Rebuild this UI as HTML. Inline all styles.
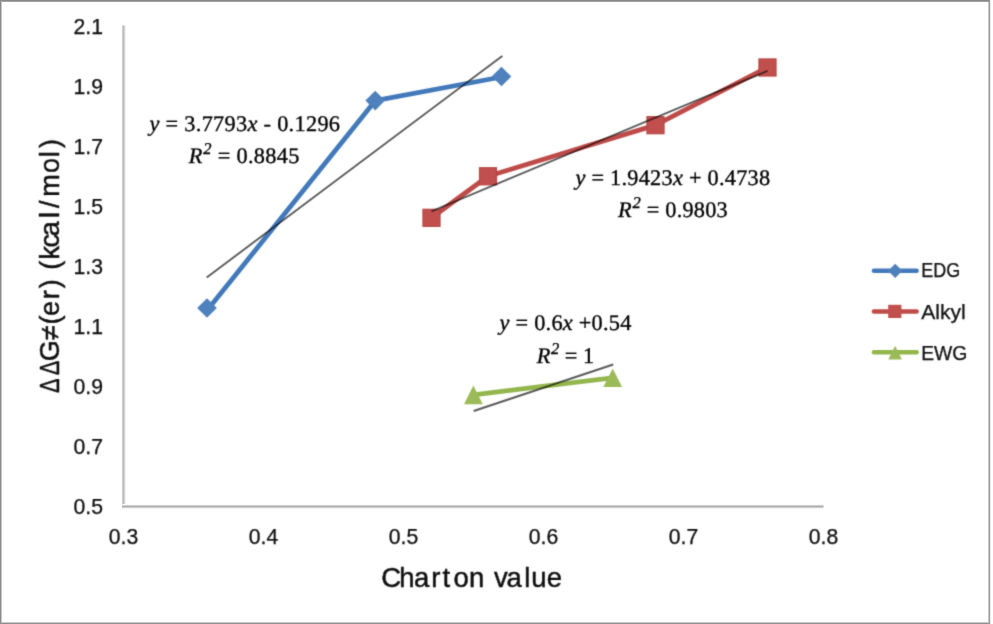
<!DOCTYPE html>
<html><head><meta charset="utf-8">
<style>
html,body{margin:0;padding:0;background:#fff;}
body{width:993px;height:624px;overflow:hidden;position:relative;}
svg{position:absolute;left:0;top:0;display:block;}
.t{font-family:"Liberation Sans",sans-serif;fill:#0c0c0c;stroke:#0c0c0c;stroke-width:0.25px;}
.tb{stroke-width:0.45px;}
.s{font-family:"Liberation Serif",serif;fill:#000;stroke:#000;stroke-width:0.35px;text-rendering:geometricPrecision;}
</style></head><body>
<svg width="993" height="624" viewBox="0 0 993 624">
<!-- chart border -->
<rect x="0" y="0" width="993" height="624" fill="#fff"/>
<rect x="0" y="0" width="990" height="1" fill="#888"/>
<rect x="0" y="1" width="990" height="1" fill="#a2a2a2"/>
<rect x="0" y="0" width="1" height="624" fill="#8a8a8a"/>
<rect x="1" y="1" width="1" height="622" fill="#c6c6c6"/>
<rect x="989" y="0" width="1" height="624" fill="#9a9a9a"/>
<rect x="988" y="2" width="1" height="621" fill="#c6c6c6"/>
<rect x="990" y="0" width="1" height="624" fill="#ededed"/>
<rect x="0" y="623" width="990" height="1" fill="#8f8f8f"/>
<rect x="2" y="622" width="986" height="1" fill="#c8c8c8"/>

<!-- axes -->
<rect x="121" y="26" width="1" height="479" fill="#fbfbfb"/>
<rect x="122" y="26" width="1" height="479" fill="#cecece"/>
<rect x="123" y="26" width="1" height="479" fill="#bababa"/>
<rect x="124" y="26" width="1" height="479" fill="#d4d4d4"/>
<rect x="125" y="26" width="1" height="479" fill="#f4f4f4"/>
<rect x="122" y="25" width="3" height="1" fill="#e2e2e2"/>
<rect x="122" y="504" width="701" height="1" fill="#fafafa"/>
<rect x="122" y="505" width="701" height="1" fill="#d0d0d0"/>
<rect x="122" y="506" width="701" height="1" fill="#adadad"/>
<rect x="122" y="507" width="701" height="1" fill="#cfcfcf"/>
<rect x="122" y="508" width="701" height="1" fill="#f2f2f2"/>
<rect x="823" y="505" width="1" height="3" fill="#dcdcdc"/>

</svg>
<svg class="c" width="993" height="624" viewBox="0 0 993 624">
<defs><filter id="cv" x="0" y="0" width="993" height="624" filterUnits="userSpaceOnUse"><feConvolveMatrix order="3" kernelMatrix="0.0225 0.105 0.0225 0.105 0.49 0.105 0.0225 0.105 0.0225" divisor="1" preserveAlpha="false" edgeMode="none"/></filter></defs>
<g filter="url(#cv)">
<!-- y tick labels -->
<g class="t" font-size="21.2" text-anchor="end">
<text x="103" y="33.9">2.1</text>
<text x="103" y="93.9">1.9</text>
<text x="103" y="153.9">1.7</text>
<text x="103" y="213.9">1.5</text>
<text x="103" y="273.9">1.3</text>
<text x="103" y="333.9">1.1</text>
<text x="103" y="393.9">0.9</text>
<text x="103" y="453.9">0.7</text>
<text x="103" y="513.9">0.5</text>
</g>
<!-- x tick labels -->
<g class="t" font-size="21.2" text-anchor="middle">
<text x="123.5" y="543.5">0.3</text>
<text x="263.5" y="543.5">0.4</text>
<text x="403.5" y="543.5">0.5</text>
<text x="543.5" y="543.5">0.6</text>
<text x="683.5" y="543.5">0.7</text>
<text x="823.5" y="543.5">0.8</text>
</g>

<!-- axis titles -->
<text class="t tb" x="381.15 399.34 414.07 431.24 442.57 453.45 468.88 493.98 506.47 524.14 531.27 546.83" y="586.8" font-size="27.5">Chartonvalue</text>
<text class="t tb" font-size="28" transform="translate(58.7,0) rotate(-90) scale(0.78,1)" x="-503.96 -481.01" y="0">ΔΔ</text>
<text class="t tb" font-size="27" transform="translate(58.7,0) rotate(-90)" x="-361.17 -340.37 -324.4 -316.08 -299.32 -288.29 -269.75 -259.58 -247.62 -236.13 -217.91 -208.05 -196.85 -172.96 -157.26 -148.04" y="0">G≠(er)(kcal/mol)</text>

<!-- series lines -->
<polyline points="208.6,308.6 375.2,100.7 501.5,77" fill="none" stroke="#4379BA" stroke-width="4.8" stroke-linejoin="round" stroke-linecap="round"/>
<polyline points="431.5,217.7 488,176.2 655.5,125.1 767.5,67.4" fill="none" stroke="#BE4B48" stroke-width="4.8" stroke-linejoin="round" stroke-linecap="round"/>
<polyline points="473.4,394.9 612.7,377.8" fill="none" stroke="#93B64D" stroke-width="4.8" stroke-linejoin="round" stroke-linecap="round"/>

<!-- markers -->
<g fill="#4F81BD">
<path d="M207,298.2 L216.8,308 L207,317.8 L197.2,308Z"/>
<path d="M375.2,90.8 L385,100.6 L375.2,110.4 L365.4,100.6Z"/>
<path d="M501.5,66.7 L511.3,76.5 L501.5,86.3 L491.7,76.5Z"/>
</g>
<g fill="#C0504D" stroke="#B8423F" stroke-width="1">
<rect x="422.90" y="209.20" width="17.2" height="17.2"/>
<rect x="479.40" y="167.70" width="17.2" height="17.2"/>
<rect x="646.90" y="116.60" width="17.2" height="17.2"/>
<rect x="758.90" y="58.90" width="17.2" height="17.2"/>
</g>
<g fill="#9BBB59">
<path d="M473.4,385.59999999999997 L482.79999999999995,404.2 L464.0,404.2Z"/>
<path d="M612.7,368.5 L622.1,387.1 L603.3000000000001,387.1Z"/>
</g>

<!-- trendlines -->
<g stroke="#5a5a5a" stroke-width="1.9" fill="none" style="mix-blend-mode:multiply">
<line x1="206.7" y1="277.4" x2="502.3" y2="55.9"/>
<line x1="431.4" y1="211.3" x2="767.6" y2="70.8"/>
<line x1="473.7" y1="411" x2="613.2" y2="364.5"/>
</g>

<!-- equations -->
<g class="s" font-size="22.3">
<text x="149.5" y="131" textLength="190.5" lengthAdjust="spacing"><tspan font-style="italic">y</tspan> = 3.7793<tspan font-style="italic">x</tspan> - 0.1296</text>
<text x="188.8" y="163.2" textLength="110.6" lengthAdjust="spacing"><tspan font-style="italic">R</tspan><tspan font-size="16.5" font-style="italic" dy="-9" dx="0.6">2</tspan><tspan dy="9"> = 0.8845</tspan></text>
<text x="575.5" y="185.2" textLength="194.6" lengthAdjust="spacing"><tspan font-style="italic">y</tspan> = 1.9423<tspan font-style="italic">x</tspan> + 0.4738</text>
<text x="618" y="217.1" textLength="109.7" lengthAdjust="spacing"><tspan font-style="italic">R</tspan><tspan font-size="16.5" font-style="italic" dy="-9" dx="0.6">2</tspan><tspan dy="9"> = 0.9803</tspan></text>
<text x="499.5" y="330" textLength="131.9" lengthAdjust="spacing"><tspan font-style="italic">y</tspan> = 0.6<tspan font-style="italic">x</tspan> +0.54</text>
<text x="536.8" y="362.5"><tspan font-style="italic">R</tspan><tspan font-size="16.5" font-style="italic" dy="-9" dx="0.6">2</tspan><tspan dy="9"> = 1</tspan></text>
</g>

<!-- legend -->
<g stroke-width="4.6" stroke-linecap="round">
<line x1="874" y1="270.8" x2="916.6" y2="270.8" stroke="#4379BA"/>
<line x1="874" y1="311.5" x2="916.6" y2="311.5" stroke="#BE4B48"/>
<line x1="874" y1="352.3" x2="916.6" y2="352.3" stroke="#93B64C"/>
</g>
<path d="M895.2,263.7 L902.3,270.8 L895.2,277.9 L888.1,270.8Z" fill="#4F81BD"/>
<rect x="888.2" y="304.8" width="13.2" height="13.2" fill="#C0504D"/>
<path d="M895.1,345.8 L901.9,359.4 L888.3,359.4Z" fill="#9BBB59"/>
<g class="t" font-size="19.8">
<text x="921.2" y="277.4" textLength="39" lengthAdjust="spacingAndGlyphs">EDG</text>
<text x="921.2" y="318.6" textLength="44.5" lengthAdjust="spacingAndGlyphs">Alkyl</text>
<text x="921.2" y="359.8" textLength="46.2" lengthAdjust="spacingAndGlyphs">EWG</text>
</g>
</g>
</svg>
</body></html>
